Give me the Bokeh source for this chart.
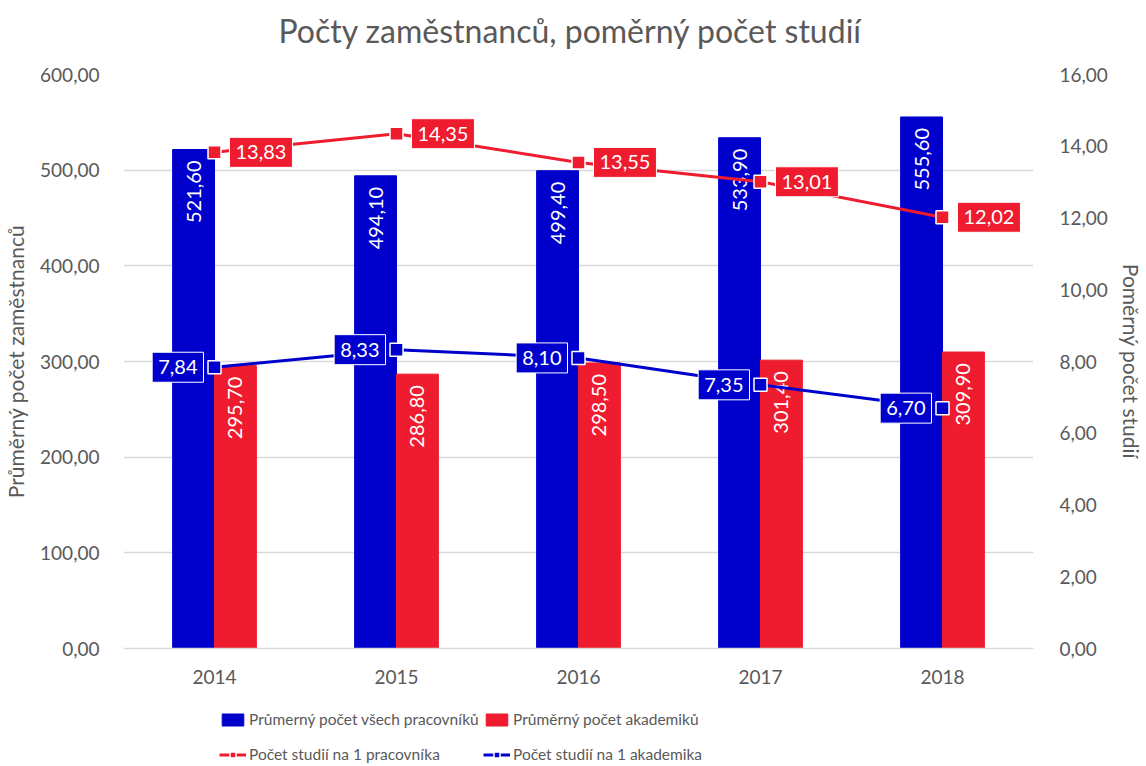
from math import pi
from bokeh.plotting import figure
from bokeh.layouts import column
from bokeh.models import (FactorRange, Range1d, LinearAxis, SingleIntervalTicker,
                          CustomJSTickFormatter, ColumnDataSource, Legend, LegendItem)
from bokeh.transform import dodge
from bokeh.core.properties import value
from bokeh.embed import file_html
from bokeh.resources import INLINE

title_text = ["Počty zaměstnanců, poměrný počet studií"]
years = ["2014", "2015", "2016", "2017", "2018"]
all_staff = [521.6, 494.1, 499.4, 533.9, 555.6]
academics = [295.7, 286.8, 298.5, 301.4, 309.9]
per_worker = [13.83, 14.35, 13.55, 13.01, 12.02]
per_academic = [7.84, 8.33, 8.10, 7.35, 6.70]
legend_labels = ["Průmerný počet všech pracovníků", "Průměrný počet akademiků",
                 "Počet studií na 1 pracovníka", "Počet studií na 1 akademika"]

BLUE = "#0000CC"
RED = "#EE1C2E"
GREY = "#595959"
GRID = "#D9D9D9"
FONT = "Lato"


def fmt(v):
    return f"{v:.2f}".replace(".", ",")


def strip(height, x_range, y_range):
    f = figure(width=1146, height=height, x_range=x_range, y_range=y_range,
               output_backend="svg", toolbar_location=None, min_border=0)
    f.axis.visible = False
    f.grid.grid_line_color = None
    f.outline_line_color = None
    return f


src = ColumnDataSource(dict(
    year=years, all=all_staff, acad=academics, pw=per_worker, pa=per_academic,
    all_lbl=[fmt(v) for v in all_staff], acad_lbl=[fmt(v) for v in academics],
    pw_lbl=[fmt(v) for v in per_worker], pa_lbl=[fmt(v) for v in per_academic],
))

# title strip
tt = strip(56, Range1d(0, 1), Range1d(0, 1))
tt.text(x=[0.5], y=[1], text=title_text, text_align="center", text_baseline="middle",
        y_offset=30, x_offset=-8, text_font=value(FONT), text_font_size="32px", text_color=GREY)

p = figure(width=1146, height=634, x_range=FactorRange(*years), y_range=Range1d(0, 600),
           output_backend="svg", toolbar_location=None,
           min_border_left=123, min_border_right=106, min_border_top=18, min_border_bottom=42)
p.extra_y_ranges = {"right": Range1d(0, 16)}

p.outline_line_color = None
p.xgrid.grid_line_color = None
p.ygrid.grid_line_color = GRID
p.ygrid.grid_line_width = 1.3

fmt_js = CustomJSTickFormatter(code="return tick.toFixed(2).replace('.', ',');")

p.yaxis.ticker = SingleIntervalTicker(interval=100)
p.yaxis.formatter = fmt_js
p.yaxis.axis_label = "Průměrný počet zaměstnanců"

right = LinearAxis(y_range_name="right", ticker=SingleIntervalTicker(interval=2), formatter=fmt_js,
                   axis_label="Poměrný počet studií")
p.add_layout(right, "right")

for ax, st, lst in [(p.yaxis[0], 18, 9), (right, 20, 8)]:
    ax.axis_line_color = None
    ax.major_tick_line_color = None
    ax.minor_tick_line_color = None
    ax.major_label_text_font = FONT
    ax.major_label_text_font_size = "19px"
    ax.major_label_text_color = GREY
    ax.major_label_standoff = st
    ax.axis_label_text_font = FONT
    ax.axis_label_text_font_size = "21px"
    ax.axis_label_text_font_style = "normal"
    ax.axis_label_text_color = GREY
    ax.axis_label_standoff = lst

p.xaxis.axis_line_color = GRID
p.xaxis.axis_line_width = 1.3
p.xaxis.major_tick_line_color = None
p.xaxis.minor_tick_line_color = None
p.xaxis.major_label_text_font = FONT
p.xaxis.major_label_text_font_size = "19px"
p.xaxis.major_label_text_color = GREY
p.xaxis.major_label_standoff = 15

bar_style_blue = dict(fill_color=BLUE, line_color=BLUE)
bar_style_red = dict(fill_color=RED, line_color=RED)
p.vbar(x=dodge("year", -0.115, range=p.x_range), top="all", width=0.23, source=src, **bar_style_blue)
p.vbar(x=dodge("year", 0.115, range=p.x_range), top="acad", width=0.23, source=src, **bar_style_red)

lbl_common = dict(angle=pi / 2, text_align="right", text_baseline="middle", y_offset=11,
                  text_color="white", text_font=value(FONT), text_font_size="20px", source=src)
p.text(x=dodge("year", -0.115, range=p.x_range), y="all", text="all_lbl", **lbl_common)
p.text(x=dodge("year", 0.115, range=p.x_range), y="acad", text="acad_lbl", **lbl_common)

line_style_red = dict(line_color=RED, line_width=3)
line_style_blue = dict(line_color=BLUE, line_width=3)
mk_red = dict(marker="square", size=13, fill_color=RED, line_color="white", line_width=1.5)
mk_blue = dict(marker="square", size=13, fill_color=BLUE, line_color="white", line_width=1.5)

p.line(x="year", y="pw", y_range_name="right", source=src, **line_style_red)
p.scatter(x="year", y="pw", y_range_name="right", source=src, **mk_red)
p.line(x="year", y="pa", y_range_name="right", source=src, **line_style_blue)
p.scatter(x="year", y="pa", y_range_name="right", source=src, **mk_blue)

box_common = dict(y_range_name="right", source=src, text_color="white", text_font=value(FONT),
                  text_font_size="20px", text_baseline="middle", border_line_color="white",
                  border_line_width=1, padding=dict(left=6, right=6, top=8, bottom=8))
p.text(x="year", y="pw", text="pw_lbl", text_align="left", x_offset=15,
       background_fill_color=RED, **box_common)
p.text(x="year", y="pa", text="pa_lbl", text_align="right", x_offset=-11,
       background_fill_color=BLUE, **box_common)

# legend strip below the chart (its proxy glyphs use the same data, kept outside its view)
lg = strip(76, FactorRange(*years), Range1d(1000, 1001))
lg.extra_y_ranges = {"right": Range1d(1000, 1001)}
r_bar_all = lg.vbar(x="year", top="all", width=0.23, source=src, **bar_style_blue)
r_bar_acad = lg.vbar(x="year", top="acad", width=0.23, source=src, **bar_style_red)
r_l_pw = lg.line(x="year", y="pw", y_range_name="right", source=src, **line_style_red)
r_s_pw = lg.scatter(x="year", y="pw", y_range_name="right", source=src, marker="square", size=10,
                    fill_color=RED, line_color="white", line_width=1.5)
r_l_pa = lg.line(x="year", y="pa", y_range_name="right", source=src, **line_style_blue)
r_s_pa = lg.scatter(x="year", y="pa", y_range_name="right", source=src, marker="square", size=10,
                    fill_color=BLUE, line_color="white", line_width=1.5)

leg_common = dict(orientation="vertical", border_line_color=None, background_fill_alpha=0,
                  padding=0, margin=0, spacing=15, label_standoff=3, glyph_width=27,
                  glyph_height=15, label_text_font=FONT, label_text_font_size="15.5px",
                  label_text_color=GREY, label_height=20)
leg1 = Legend(items=[LegendItem(label=legend_labels[0], renderers=[r_bar_all]),
                     LegendItem(label=legend_labels[2], renderers=[r_l_pw, r_s_pw])],
              location=(96, 2), **leg_common)
leg2 = Legend(items=[LegendItem(label=legend_labels[1], renderers=[r_bar_acad]),
                     LegendItem(label=legend_labels[3], renderers=[r_l_pa, r_s_pa])],
              location=(360, 2), **leg_common)
lg.add_layout(leg1, "center")
lg.add_layout(leg2, "center")

layout = column(tt, p, lg, spacing=0)
open("out.html", "w").write(file_html(layout, INLINE))
